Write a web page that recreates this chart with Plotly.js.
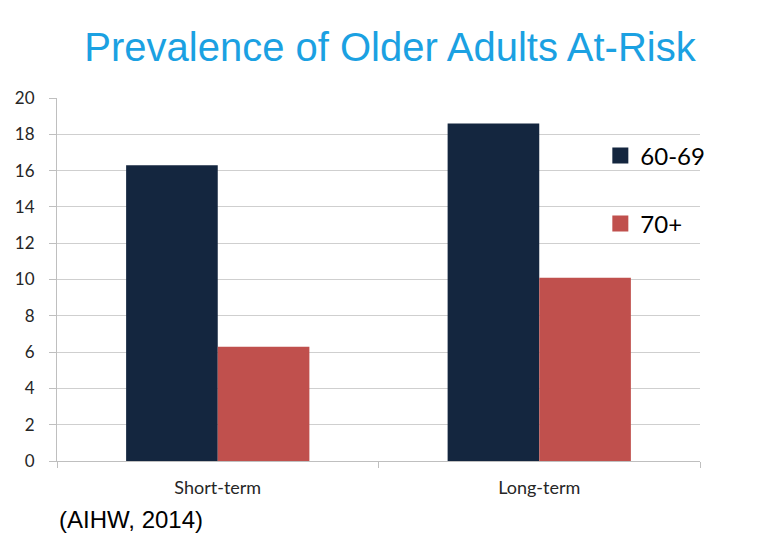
<!DOCTYPE html>
<html>
<head>
<meta charset="utf-8">
<script src="https://cdn.plot.ly/plotly-3.0.1.min.js"></script>
<style>html,body{margin:0;padding:0;background:#fff;}#chart{width:780px;height:540px;}</style>
</head>
<body>
<div id="chart"></div>
<script>
const categories = ["Short-term", "Long-term"];
const series6069 = [16.3, 18.6];
const series70plus = [6.3, 10.1];
const seriesNames = ["60-69", "70+"];
const seriesColors = ["#14263F", "#C0504D"];
const yTicks = [0, 2, 4, 6, 8, 10, 12, 14, 16, 18, 20];

const traces = [
  {type: "bar", x: categories, y: series6069, name: seriesNames[0],
   marker: {color: seriesColors[0]}, showlegend: false},
  {type: "bar", x: categories, y: series70plus, name: seriesNames[1],
   marker: {color: seriesColors[1]}, showlegend: false},
  // legend entries (larger square swatches, no data drawn)
  {type: "scatter", mode: "markers", x: [null], y: [null], name: seriesNames[0],
   marker: {symbol: "square", size: 16, color: seriesColors[0]}, legend: "legend", hoverinfo: "skip"},
  {type: "scatter", mode: "markers", x: [null], y: [null], name: seriesNames[1],
   marker: {symbol: "square", size: 16, color: seriesColors[1]}, legend: "legend2", hoverinfo: "skip"}
];

const fontCal = "Lato, 'Open Sans', sans-serif";
const legendFont = {family: fontCal, size: 24, color: "#000"};

const layout = {
  width: 780, height: 540,
  paper_bgcolor: "#fff", plot_bgcolor: "#fff",
  margin: {l: 57, r: 80, t: 98, b: 79},
  title: {text: "Prevalence of Older Adults At-Risk",
          font: {family: "'Liberation Sans', Arial, sans-serif", size: 40, color: "#1BA1E2"},
          x: 0.5, xanchor: "center", xref: "container", y: 0.913, yanchor: "middle", yref: "container"},
  barmode: "group", bargap: 0.43, bargroupgap: 0,
  xaxis: {type: "category", showline: true, linecolor: "#BFBFBF", linewidth: 1,
          ticks: "outside", tickson: "boundaries", ticklen: 6, tickcolor: "#BFBFBF",
          tickfont: {family: fontCal, size: 18, color: "#262626"}, ticklabelstandoff: 10,
          showgrid: false, zeroline: false},
  yaxis: {range: [0, 20], tickvals: yTicks, showline: true, linecolor: "#BFBFBF", linewidth: 1,
          ticks: "outside", ticklen: 7, tickcolor: "#BFBFBF",
          tickfont: {family: fontCal, size: 17, color: "#262626"}, ticklabelstandoff: 11,
          showgrid: true, gridcolor: "#CFCFCF", gridwidth: 1, zeroline: false},
  showlegend: true,
  legend: {x: 0.845, xanchor: "left", y: 0.5, yanchor: "middle",
           font: legendFont, bgcolor: "rgba(0,0,0,0)"},
  legend2: {x: 0.845, xanchor: "left", y: 0.5, yanchor: "middle",
            font: legendFont, bgcolor: "rgba(0,0,0,0)"},
  annotations: [{text: "(AIHW, 2014)", xref: "paper", yref: "paper", x: 0, y: -0.1625,
                 xanchor: "left", yanchor: "middle", showarrow: false,
                 font: {family: "'Liberation Sans', Arial, sans-serif", size: 24, color: "#000"}}]
};
// legend vertical positions in paper units (plot spans y=98..461 px)
layout.legend.y = (461 - 156) / 363;
layout.legend2.y = (461 - 224) / 363;

Plotly.newPlot("chart", traces, layout, {displayModeBar: false, staticPlot: true});
</script>
</body>
</html>
